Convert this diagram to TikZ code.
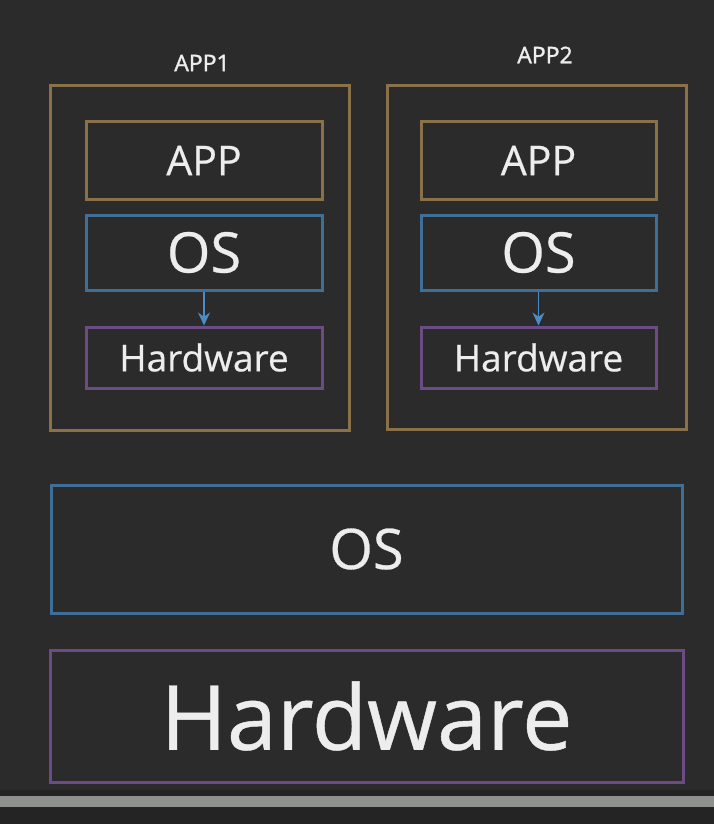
\documentclass[tikz,border=0pt]{standalone}
\usepackage{fontspec}
\setmainfont[FakeBold=0.5]{Open Sans}
\newfontfamily\lblfont[FakeBold=1.5]{Open Sans}
\usetikzlibrary{arrows.meta}
\definecolor{bgc}{HTML}{2B2B2B}
\definecolor{goldc}{HTML}{8A7148}
\definecolor{bluec}{HTML}{3F6F96}
\definecolor{arrc}{HTML}{4C8CC4}
\definecolor{purc}{HTML}{6B4C84}
\definecolor{txtc}{HTML}{EDEDED}
\definecolor{barc}{HTML}{8E918E}
\definecolor{lowc}{HTML}{242424}
\tikzset{
  box/.style={draw, line width=3pt, rectangle, inner sep=0pt, text=txtc},
  goldbox/.style={box, draw=goldc},
  bluebox/.style={box, draw=bluec},
  purbox/.style={box, draw=purc},
  lbl/.style={text=txtc, inner sep=0pt, font=\lblfont\fontsize{23}{23}\selectfont},
  fapp/.style={font=\fontsize{41}{41}\selectfont},
  fos/.style={font=\fontsize{56}{56}\selectfont},
  fhw/.style={font=\fontsize{37}{37}\selectfont},
  fbig/.style={font=\fontsize{90}{90}\selectfont},
  conn/.style={draw=arrc, line width=1.5pt, -{Stealth[length=13pt,width=12pt]}}
}
\begin{document}
\begin{tikzpicture}[x=1pt,y=-1pt]
\fill[bgc] (0,0) rectangle (714,824);
\useasboundingbox (0,0) rectangle (714,824);
\fill[lowc] (0,790) rectangle (714,824);
\fill[barc] (0,796) rectangle (714,807);
% containers
\node[goldbox, minimum width=299pt, minimum height=344pt] (c1) at (199.5,258) {};
\node[goldbox, minimum width=299pt, minimum height=343pt] (c2) at (536.5,257.5) {};
\node[lbl] (l1) at (202,63) {APP1};
\node[lbl] (l2) at (545,55) {APP2};
% left stack
\node[goldbox, fapp, minimum width=236pt, minimum height=77pt] (a1) at (204,160.5) {APP};
\node[bluebox, fos, minimum width=236pt, minimum height=75pt] (o1) at (204,252.5) {OS};
\node[purbox, fhw, minimum width=236pt, minimum height=61pt] (h1) at (204,357.5) {Hardware};
% right stack
\node[goldbox, fapp, minimum width=235pt, minimum height=77pt] (a2) at (538.5,160.5) {APP};
\node[bluebox, fos, minimum width=235pt, minimum height=75pt] (o2) at (538.5,252.5) {OS};
\node[purbox, fhw, minimum width=235pt, minimum height=61pt] (h2) at (538.5,357.5) {Hardware};
% arrows
\draw[conn] (o1.south) -- (h1.north);
\draw[conn] (o2.south) -- (h2.north);
% base
\node[bluebox, fos, minimum width=631pt, minimum height=128pt] (os) at (366.5,549) {OS};
\node[purbox, fbig, minimum width=633pt, minimum height=132pt] (hw) at (366.5,716) {Hardware};
\end{tikzpicture}
\end{document}
